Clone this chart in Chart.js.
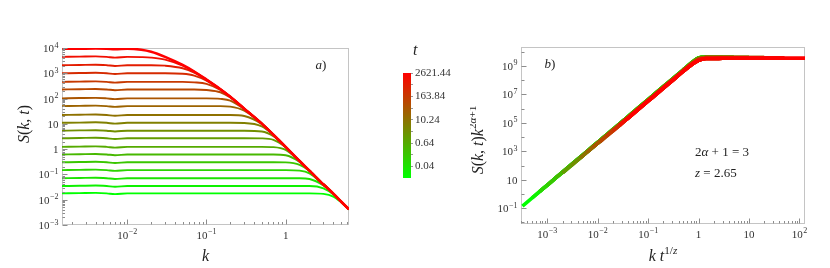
<!DOCTYPE html>
<html>
<head>
<meta charset="utf-8">
<title>S(k,t)</title>
<script src="https://cdn.jsdelivr.net/npm/chart.js@4.4.1/dist/chart.umd.min.js"></script>
<style>
  body { margin: 0; background: #fff; }
  #page { position: relative; width: 830px; height: 268px; }
  #page canvas { position: absolute; top: 0; }
</style>
</head>
<body>
<div id="page">
  <canvas id="chartA" width="395" height="268" style="left:0"></canvas>
  <canvas id="chartC" width="75" height="268" style="left:395px"></canvas>
  <canvas id="chartB" width="360" height="268" style="left:470px"></canvas>
</div>
<script>
// snapshot times (colour bar), one curve per t
var tValues = [0.01, 0.02, 0.04, 0.08, 0.16, 0.32, 0.64, 1.28, 2.56, 5.12, 10.24, 20.48, 40.96, 81.92, 163.84, 327.68, 655.36, 1310.72, 2621.44];

// panel a) : S(k,t) against k
var kValues = [0.0015, 0.0025, 0.004, 0.0055, 0.007, 0.01, 0.015, 0.02, 0.03, 0.05, 0.07, 0.1, 0.15, 0.2, 0.3, 0.5, 0.7, 1, 1.5, 2, 3, 4, 5, 6.3];
var sCurves = [
  [0.0178, 0.0182, 0.0186, 0.0178, 0.0166, 0.0178, 0.0178, 0.0178, 0.0178, 0.0178, 0.0178, 0.0178, 0.0178, 0.0178, 0.0178, 0.0178, 0.0178, 0.0178, 0.0178, 0.0178, 0.0170, 0.0133, 0.0080, 0.00412],
  [0.0347, 0.0355, 0.0363, 0.0347, 0.0324, 0.0347, 0.0347, 0.0347, 0.0347, 0.0347, 0.0347, 0.0347, 0.0347, 0.0347, 0.0347, 0.0347, 0.0347, 0.0347, 0.0347, 0.0347, 0.0282, 0.0162, 0.0084, 0.00417],
  [0.0708, 0.0724, 0.0741, 0.0708, 0.0661, 0.0708, 0.0708, 0.0708, 0.0708, 0.0708, 0.0708, 0.0708, 0.0708, 0.0708, 0.0708, 0.0708, 0.0708, 0.0708, 0.0708, 0.0661, 0.0363, 0.0172, 0.0085, 0.00417],
  [0.148, 0.151, 0.155, 0.148, 0.138, 0.148, 0.148, 0.148, 0.148, 0.148, 0.148, 0.148, 0.148, 0.148, 0.148, 0.148, 0.148, 0.148, 0.141, 0.110, 0.0389, 0.0174, 0.0085, 0.00417],
  [0.302, 0.309, 0.316, 0.302, 0.282, 0.302, 0.302, 0.302, 0.302, 0.302, 0.302, 0.302, 0.302, 0.302, 0.302, 0.302, 0.302, 0.299, 0.240, 0.135, 0.0398, 0.0174, 0.0085, 0.00417],
  [0.617, 0.631, 0.646, 0.617, 0.575, 0.617, 0.617, 0.617, 0.617, 0.617, 0.617, 0.617, 0.617, 0.617, 0.617, 0.617, 0.617, 0.575, 0.313, 0.141, 0.0398, 0.0174, 0.0085, 0.00417],
  [1.23, 1.26, 1.29, 1.23, 1.15, 1.23, 1.23, 1.23, 1.23, 1.23, 1.23, 1.23, 1.23, 1.23, 1.23, 1.23, 1.20, 0.933, 0.331, 0.141, 0.0398, 0.0174, 0.0085, 0.00417],
  [2.69, 2.75, 2.82, 2.69, 2.51, 2.69, 2.69, 2.69, 2.69, 2.69, 2.69, 2.69, 2.69, 2.69, 2.69, 2.66, 2.32, 1.175, 0.339, 0.141, 0.0398, 0.0174, 0.0085, 0.00417],
  [5.37, 5.50, 5.62, 5.37, 5.01, 5.37, 5.37, 5.37, 5.37, 5.37, 5.37, 5.37, 5.37, 5.37, 5.37, 5.01, 3.24, 1.23, 0.339, 0.141, 0.0398, 0.0174, 0.0085, 0.00417],
  [11.0, 11.2, 11.5, 11.0, 10.2, 11.0, 11.0, 11.0, 11.0, 11.0, 11.0, 11.0, 11.0, 11.0, 10.8, 7.94, 3.63, 1.23, 0.339, 0.141, 0.0398, 0.0174, 0.0085, 0.00417],
  [22.4, 22.9, 23.4, 22.4, 20.9, 22.4, 22.4, 22.4, 22.4, 22.4, 22.4, 22.4, 22.4, 22.4, 20.4, 9.77, 3.72, 1.23, 0.339, 0.141, 0.0398, 0.0174, 0.0085, 0.00417],
  [50.1, 51.3, 52.5, 50.1, 46.8, 50.1, 50.1, 50.1, 50.1, 50.1, 50.1, 50.1, 50.1, 47.9, 33.1, 10.2, 3.72, 1.23, 0.339, 0.141, 0.0398, 0.0174, 0.0085, 0.00417],
  [102, 105, 107, 102, 95.5, 102, 102, 102, 102, 102, 102, 102, 97.7, 83.2, 38.0, 10.2, 3.72, 1.23, 0.339, 0.141, 0.0398, 0.0174, 0.0085, 0.00417],
  [229, 234, 240, 229, 214, 229, 229, 229, 229, 229, 229, 219, 178, 110, 39.8, 10.2, 3.72, 1.23, 0.339, 0.141, 0.0398, 0.0174, 0.0085, 0.00417],
  [457, 468, 479, 457, 427, 457, 457, 457, 457, 457, 437, 380, 219, 116, 39.8, 10.2, 3.72, 1.23, 0.339, 0.141, 0.0398, 0.0174, 0.0085, 0.00417],
  [1000, 1023, 1047, 1000, 933, 1000, 1000, 1000, 1000, 955, 813, 513, 234, 117, 39.8, 10.2, 3.72, 1.23, 0.339, 0.141, 0.0398, 0.0174, 0.0085, 0.00417],
  [2090, 2140, 2190, 2090, 1950, 2090, 2090, 2090, 2000, 1585, 1072, 550, 234, 117, 39.8, 10.2, 3.72, 1.23, 0.339, 0.141, 0.0398, 0.0174, 0.0085, 0.00417],
  [4470, 4570, 4680, 4470, 4170, 4470, 4370, 4170, 3470, 2000, 1160, 562, 234, 117, 39.8, 10.2, 3.72, 1.23, 0.339, 0.141, 0.0398, 0.0174, 0.0085, 0.00417],
  [9330, 9440, 9550, 9330, 8910, 9330, 8510, 7080, 4470, 2140, 1175, 562, 234, 117, 39.8, 10.2, 3.72, 1.23, 0.339, 0.141, 0.0398, 0.0174, 0.0085, 0.00417]
];
var aXTicks = [0.01, 0.1, 1];
var aXLabels = ["10^\u22122", "10^\u22121", "1"];
var aYTicks = [0.001, 0.01, 0.1, 1, 10, 100, 1000, 10000];
var aYLabels = ["10^\u22123", "10^\u22122", "10^\u22121", "1", "10", "10^2", "10^3", "10^4"];

// panel b) : collapsed curves, k t^(1/z) on x
var bX = [3.2e-4, 5e-4, 7e-4, 1e-3, 1.5e-3, 2e-3, 3e-3, 4.5e-3, 6e-3, 8e-3, 0.011, 0.015, 0.02, 0.027, 0.035, 0.05, 0.1, 0.2, 0.35, 0.5, 0.7, 1, 1.4, 2, 3, 5, 10, 20, 50, 129];
var bGreenY = [0.140, 0.533, 1.46, 4.27, 14.4, 34.1, 115, 388, 920, 2180, 5660, 1.44e4, 3.41e4, 8.37e4, 1.83e5, 5.33e5, 4.27e6, 3.41e7, 1.83e8, 5.33e8, 1.46e9, 3.55e9, 4.15e9, 4.17e9, 4.17e9, 4.17e9, 4.17e9, 4.17e9, 4.17e9, 4.17e9];
var bOliveY = [0.124, 0.475, 1.30, 3.80, 12.8, 30.4, 103, 346, 820, 1950, 5050, 1.28e4, 3.04e4, 7.46e4, 1.63e5, 4.75e5, 3.80e6, 3.04e7, 1.63e8, 4.75e8, 1.29e9, 3.02e9, 3.74e9, 3.80e9, 3.80e9, 3.80e9, 3.80e9, 3.80e9, 3.80e9, 3.80e9];
var bRedY = [0.111, 0.424, 1.16, 3.39, 11.4, 27.1, 91.4, 308, 731, 1730, 4500, 1.14e4, 2.71e4, 6.65e4, 1.45e5, 4.24e5, 3.39e6, 2.71e7, 1.45e8, 4.21e8, 1.10e9, 2.40e9, 3.24e9, 3.30e9, 3.40e9, 3.44e9, 3.47e9, 3.47e9, 3.47e9, 3.47e9];
var bGroup = [0, 0, 0, 0, 0, 0, 1, 1, 1, 1, 1, 1, 1, 2, 2, 2, 2, 2, 2];
var bXMin = [3.2e-4, 4.2e-4, 5.4e-4, 7.0e-4, 9.1e-4, 1.19e-3, 1.54e-3, 2.0e-3, 2.6e-3, 3.4e-3, 4.4e-3, 5.7e-3, 7.4e-3, 9.6e-3, 0.0125, 0.0162, 0.021, 0.027, 0.035];
var bXMax = [1.37, 1.78, 2.31, 3.0, 3.9, 5.07, 6.6, 8.6, 11.1, 14.5, 18.8, 24.4, 31.7, 41, 53, 69, 90, 117, 152];
var bXTicks = [0.001, 0.01, 0.1, 1, 10, 100];
var bXLabels = ["10^\u22123", "10^\u22122", "10^\u22121", "1", "10", "10^2"];
var bYTicks = [0.1, 10, 1e3, 1e5, 1e7, 1e9];
var bYLabels = ["10^\u22121", "10", "10^3", "10^5", "10^7", "10^9"];

// colour bar
var cbTicks = [0.04, 0.16, 0.64, 2.56, 10.24, 40.96, 163.84, 655.36, 2621.44];
var cbLabels = ["0.04", "", "0.64", "", "10.24", "", "163.84", "", "2621.44"];

var SERIF = '"Liberation Serif", "Times New Roman", serif';

function curveColor(j) {
  var f = j / (tValues.length - 1);
  return "rgb(" + Math.round(255 * f) + "," + Math.round(255 * (1 - f)) + ",0)";
}

// "10^-2" -> 10 with a raised -2
function drawPow(ctx, label, x, y, align) {
  var p = label.split("^");
  ctx.font = "11px " + SERIF;
  var wb = ctx.measureText(p[0]).width;
  ctx.font = "8px " + SERIF;
  var ws = p[1] ? ctx.measureText(p[1]).width + 0.5 : 0;
  var x0 = align === "right" ? x - wb - ws : x - (wb + ws) / 2;
  ctx.font = "11px " + SERIF;
  ctx.fillText(p[0], x0, y);
  if (p[1]) {
    ctx.font = "8px " + SERIF;
    ctx.fillText(p[1], x0 + wb + 0.5, y - 4.5);
  }
}

// mixed italic / upright / superscript text
function drawRich(ctx, segs, x, y, size, align, rotate) {
  ctx.save();
  ctx.translate(x, y);
  if (rotate) ctx.rotate(-Math.PI / 2);
  var parts = segs.map(function (s) {
    var sz = s.s ? size * 0.7 : size;
    var f = (s.i ? "italic " : "") + sz + "px " + SERIF;
    ctx.font = f;
    return { t: s.t, f: f, w: ctx.measureText(s.t).width, dy: s.s ? -size * 0.42 : 0 };
  });
  var total = 0;
  parts.forEach(function (p) { total += p.w; });
  var cx = align === "left" ? 0 : -total / 2;
  parts.forEach(function (p) {
    ctx.font = p.f;
    ctx.fillText(p.t, cx, p.dy);
    cx += p.w;
  });
  ctx.restore();
}

function logTicks(min, max, minor, labelled) {
  var out = [];
  for (var d = Math.floor(Math.log10(min)); d <= Math.ceil(Math.log10(max)); d++) {
    for (var m = 1; m <= 9; m++) {
      var v = m * Math.pow(10, d);
      if (v < min * 0.999 || v > max * 1.001) continue;
      if (m === 1) {
        var isLab = labelled.some(function (l) { return Math.abs(l / v - 1) < 1e-6; });
        out.push({ v: v, len: (minor || isLab) ? 5 : 3 });
      } else if (minor) {
        out.push({ v: v, len: 2.5 });
      }
    }
  }
  return out;
}

function box(a) {
  return {
    L: Math.round(a.left) + 0.5, R: Math.round(a.right) - 0.5,
    T: Math.round(a.top) + 0.5, B: Math.round(a.bottom) - 0.5
  };
}

function frameAxes(cfg) {
  return {
    id: "frameAxes",
    // frame first so the curves sit on top of it
    beforeDatasetsDraw: function (chart) {
      var ctx = chart.ctx, b = box(chart.chartArea);
      ctx.save();
      ctx.lineWidth = 1;
      ctx.strokeStyle = "#c4c4c4";
      ctx.strokeRect(b.L, b.T, b.R - b.L, b.B - b.T);
      ctx.restore();
    },
    afterDraw: function (chart) {
      var ctx = chart.ctx, a = chart.chartArea, b = box(a);
      var xs = chart.scales.x, ys = chart.scales.y;
      ctx.save();
      ctx.lineWidth = 1;
      ctx.strokeStyle = "#8c8c8c";
      ctx.beginPath();
      logTicks(xs.min, xs.max, cfg.xMinor, cfg.xTicks).forEach(function (tk) {
        var p = Math.round(xs.getPixelForValue(tk.v)) + 0.5;
        ctx.moveTo(p, b.B); ctx.lineTo(p, b.B - tk.len);
      });
      logTicks(ys.min, ys.max, cfg.yMinor, cfg.yTicks).forEach(function (tk) {
        var p = Math.round(ys.getPixelForValue(tk.v)) + 0.5;
        ctx.moveTo(b.L, p); ctx.lineTo(b.L + tk.len, p);
      });
      ctx.stroke();
      ctx.fillStyle = "#333";
      ctx.textBaseline = "alphabetic";
      cfg.xTicks.forEach(function (v, i) {
        drawPow(ctx, cfg.xLabels[i], xs.getPixelForValue(v), b.B + 14, "center");
      });
      cfg.yTicks.forEach(function (v, i) {
        drawPow(ctx, cfg.yLabels[i], b.L - 4, ys.getPixelForValue(v) + 4, "right");
      });
      ctx.fillStyle = "#222";
      cfg.text(ctx, a);
      ctx.restore();
    }
  };
}

var baseOpts = function (xr, yr, pad, yW, xH) {
  return {
    responsive: false,
    animation: false,
    layout: { padding: pad },
    plugins: { legend: { display: false }, tooltip: { enabled: false } },
    elements: { point: { radius: 0 } },
    scales: {
      x: { type: "logarithmic", min: xr[0], max: xr[1], ticks: { display: false }, grid: { display: false }, border: { display: false },
           afterFit: function (s) { s.height = xH; } },
      y: { type: "logarithmic", min: yr[0], max: yr[1], ticks: { display: false }, grid: { display: false }, border: { display: false },
           afterFit: function (s) { s.width = yW; } }
    }
  };
};

// panel a
new Chart(document.getElementById("chartA"), {
  type: "line",
  data: {
    datasets: tValues.map(function (t, j) {
      return {
        label: "t = " + t,
        data: kValues.map(function (k, i) { return { x: k, y: sCurves[j][i] }; }),
        borderColor: curveColor(j),
        borderWidth: j === tValues.length - 1 ? 2.6 : 1.9,
        cubicInterpolationMode: "monotone",
        order: tValues.length - 1 - j
      };
    })
  },
  options: baseOpts([0.0015, 6.3], [0.001, 10000], { top: 48, right: 46, left: 0, bottom: 0 }, 62, 43),
  plugins: [frameAxes({
    xTicks: aXTicks, xLabels: aXLabels, yTicks: aYTicks, yLabels: aYLabels, xMinor: true, yMinor: true,
    text: function (ctx, a) {
      drawRich(ctx, [{ t: "S", i: 1 }, { t: "(" }, { t: "k", i: 1 }, { t: ", " }, { t: "t", i: 1 }, { t: ")" }], 29, 124, 16, "center", true);
      drawRich(ctx, [{ t: "k", i: 1 }], (a.left + a.right) / 2, 261, 16, "center");
      drawRich(ctx, [{ t: "a", i: 1 }, { t: ")" }], a.right - 28, a.top + 21, 13, "center");
    }
  })]
});

// colour bar
new Chart(document.getElementById("chartC"), {
  type: "bar",
  data: {
    labels: ["t"],
    datasets: [{
      data: [[tValues[0], tValues[tValues.length - 1]]],
      barPercentage: 1,
      categoryPercentage: 1,
      backgroundColor: function (c) {
        var a = c.chart.chartArea;
        if (!a) return "rgb(128,128,0)";
        var g = c.chart.ctx.createLinearGradient(0, a.bottom, 0, a.top);
        g.addColorStop(0, curveColor(0));
        g.addColorStop(1, curveColor(tValues.length - 1));
        return g;
      }
    }]
  },
  options: {
    responsive: false,
    animation: false,
    layout: { padding: { top: 73, bottom: 90, left: 8, right: 0 } },
    plugins: { legend: { display: false }, tooltip: { enabled: false } },
    scales: {
      x: { display: false },
      y: {
        type: "logarithmic", position: "right", min: tValues[0], max: tValues[tValues.length - 1],
        afterBuildTicks: function (s) { s.ticks = cbTicks.map(function (v) { return { value: v }; }); },
        ticks: { autoSkip: false, padding: 2, color: "#333", font: { family: SERIF, size: 11 },
                 callback: function (v, i) { return cbLabels[i]; } },
        grid: { drawOnChartArea: false, tickLength: 2, color: "#999" },
        border: { display: false },
        afterFit: function (s) { s.width = 59; }
      }
    }
  },
  plugins: [{
    id: "cbTitle",
    afterDraw: function (chart) {
      var a = chart.chartArea;
      chart.ctx.save();
      chart.ctx.fillStyle = "#222";
      drawRich(chart.ctx, [{ t: "t", i: 1 }], a.right + 2, a.top - 18, 16, "left");
      chart.ctx.restore();
    }
  }]
});

// panel b
new Chart(document.getElementById("chartB"), {
  type: "line",
  data: {
    datasets: tValues.map(function (t, j) {
      var shape = [bGreenY, bOliveY, bRedY][bGroup[j]];
      var pts = [];
      bX.forEach(function (x, i) {
        if (x >= bXMin[j] * 0.999 && x <= bXMax[j]) pts.push({ x: x, y: shape[i] });
      });
      return {
        label: "t = " + t,
        data: pts,
        borderColor: curveColor(j),
        borderWidth: 3.6,
        cubicInterpolationMode: "monotone",
        order: tValues.length - 1 - j
      };
    })
  },
  options: baseOpts([3.05e-4, 129], [7.8e-3, 2.1e10], { top: 47, right: 25, left: 0, bottom: 0 }, 51, 44),
  plugins: [frameAxes({
    xTicks: bXTicks, xLabels: bXLabels, yTicks: bYTicks, yLabels: bYLabels, xMinor: true, yMinor: false,
    text: function (ctx, a) {
      drawRich(ctx, [{ t: "S", i: 1 }, { t: "(" }, { t: "k", i: 1 }, { t: ", " }, { t: "t", i: 1 }, { t: ")" }, { t: "k", i: 1 },
                     { t: "2", s: 1 }, { t: "\u03b1", s: 1, i: 1 }, { t: "+1", s: 1 }], 13, 140, 16, "center", true);
      drawRich(ctx, [{ t: "k", i: 1 }, { t: " " }, { t: "t", i: 1 }, { t: "1/", s: 1 }, { t: "z", s: 1, i: 1 }], (a.left + a.right) / 2, 261, 16, "center");
      drawRich(ctx, [{ t: "b", i: 1 }, { t: ")" }], a.left + 29, a.top + 21, 13, "center");
      drawRich(ctx, [{ t: "2" }, { t: "\u03b1", i: 1 }, { t: " + 1 = 3" }], a.left + 174, 156, 13, "left");
      drawRich(ctx, [{ t: "z", i: 1 }, { t: " = 2.65" }], a.left + 174, 177, 13, "left");
    }
  })]
});
</script>
</body>
</html>
